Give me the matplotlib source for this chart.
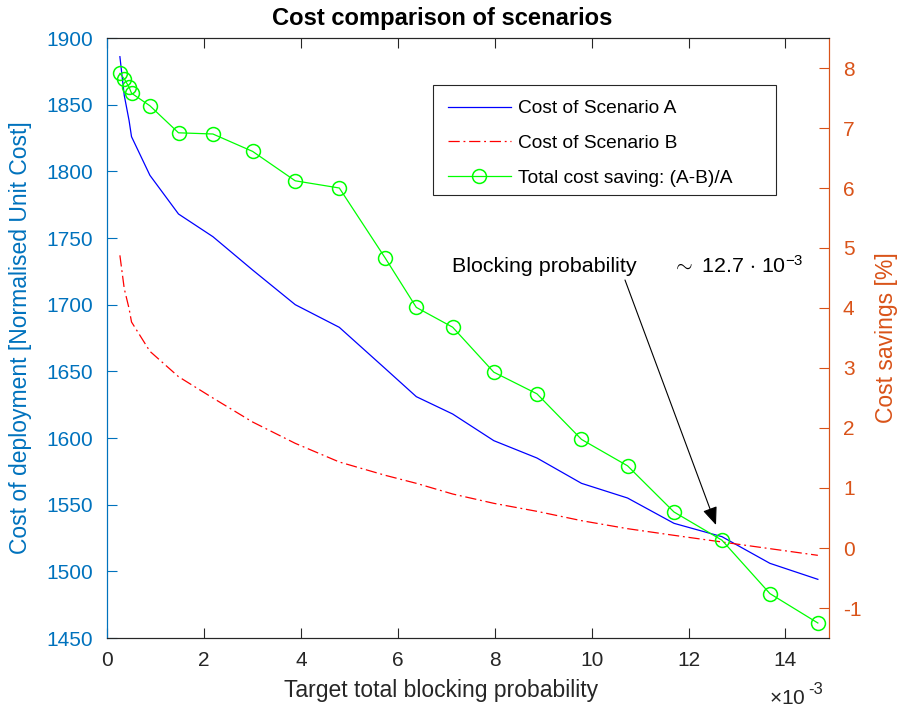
import matplotlib
matplotlib.use("Agg")
import matplotlib.pyplot as plt
from matplotlib.patches import Rectangle

plt.rcParams['font.family'] = ['Liberation Sans', 'DejaVu Sans']
plt.rcParams['mathtext.fontset'] = 'custom'
plt.rcParams['mathtext.rm'] = 'Liberation Sans'
plt.rcParams['mathtext.it'] = 'Liberation Sans:italic'
plt.rcParams['axes.unicode_minus'] = False

# target total blocking probability, in units of 1e-3
blocking = [0.26, 0.35, 0.45, 0.50, 0.88, 1.47, 2.18, 3.00, 3.88, 4.79, 5.74,
            6.38, 7.13, 7.98, 8.87, 9.79, 10.74, 11.70, 12.69, 13.68, 14.67]
cost_a = [1886, 1857, 1838, 1826, 1797, 1768, 1751, 1726, 1700, 1683, 1652,
          1631, 1618, 1598, 1585, 1566, 1555, 1536, 1526, 1506, 1494]
cost_b = [1737, 1712, 1697, 1687, 1665, 1646, 1630, 1612, 1596, 1582, 1572,
          1566, 1558, 1551, 1545, 1538, 1532, 1527, 1522, 1517, 1512]
saving = [7.91, 7.82, 7.68, 7.58, 7.37, 6.92, 6.90, 6.61, 6.12, 6.00, 4.83,
          4.01, 3.68, 2.93, 2.57, 1.81, 1.37, 0.60, 0.13, -0.76, -1.25]

x_ticks = [0, 2, 4, 6, 8, 10, 12, 14]
left_ticks = list(range(1450, 1901, 50))
right_ticks = list(range(-1, 9))

BLUE = (0, 0.447, 0.741)
ORANGE = (0.85, 0.325, 0.098)
DARK = (0.15, 0.15, 0.15)
W, H = 898, 711


def fp(x, y):
    # pixel position -> figure fraction
    return x / W, 1 - y / H


fig = plt.figure(figsize=(W / 100, H / 100), dpi=100)
ax = fig.add_axes([107.3 / W, 1 - 638 / H, 721.7 / W, 600 / H])
ax2 = ax.twinx()

la, = ax.plot(blocking, cost_a, color='blue', lw=0.9, label='Cost of Scenario A')
lb, = ax.plot(blocking, cost_b, color='red', lw=0.9, linestyle=(0, (9, 3, 1.5, 3)),
              label='Cost of Scenario B')
ls, = ax2.plot(blocking, saving, color=(0, 1, 0), lw=0.9, marker='o', markersize=10,
               markerfacecolor='none', markeredgewidth=1.1,
               label='Total cost saving: (A-B)/A')

ax.set_xlim(0, 14.9)
ax.set_ylim(1450, 1900)
ax2.set_ylim(-1.5, 8.5)
ax.set_xticks(x_ticks)
ax.set_yticks(left_ticks)
ax2.set_yticks(right_ticks)

ax.tick_params(axis='x', direction='in', length=7, width=0.8, colors=DARK,
               labelsize=15, pad=9, top=True)
ax.tick_params(axis='y', direction='in', length=7, width=0.8, colors=BLUE,
               labelsize=15, pad=10)
ax2.tick_params(axis='y', direction='in', length=7, width=0.8, colors=ORANGE,
                labelsize=15, pad=10)

for a in (ax, ax2):
    a.spines['top'].set_color(DARK)
    a.spines['bottom'].set_color(DARK)
    a.spines['left'].set_color(BLUE)
    a.spines['right'].set_color(ORANGE)
    for s in a.spines.values():
        s.set_linewidth(0.8)

ax.set_xlabel('Target total blocking probability', fontsize=16.5, color=DARK)
ax.xaxis.set_label_coords((441.5 - 107.3) / 721.7, (638 - 679) / 600)
ax.set_ylabel('Cost of deployment [Normalised Unit Cost]', fontsize=16.5, color=BLUE)
ax.yaxis.set_label_coords((32 - 107.3) / 721.7, 0.5)
ax2.set_ylabel('Cost savings [%]', fontsize=16.5, color=ORANGE)
ax2.yaxis.set_label_coords((875 - 107.3) / 721.7, 0.5)

fig.text(*fp(442.5, 18), 'Cost comparison of scenarios', fontsize=17.1,
         fontweight='bold', ha='center', va='center')
fig.text(*fp(769, 698), r'$\times$10', fontsize=15, color=DARK, ha='left', va='center')
fig.text(*fp(808, 689), '-3', fontsize=12, color=DARK, ha='left', va='center')

# legend box drawn separately (wider right margin, like the reference)
ax2.add_patch(Rectangle(fp(432.7, 195), (776 - 432.7) / W, 110 / H,
                        transform=fig.transFigure, facecolor='white',
                        edgecolor=DARK, linewidth=0.8, zorder=4, clip_on=False))
leg = ax2.legend(handles=[la, lb, ls], loc='upper left',
                 bbox_to_anchor=fp(432.7, 85), bbox_transform=fig.transFigure,
                 fontsize=13.8, frameon=False, handlelength=3.3,
                 handletextpad=0.35, labelspacing=0.9, borderpad=0.78,
                 borderaxespad=0)
leg.set_zorder(6)

fig.text(*fp(452, 266), 'Blocking probability', fontsize=15.4, ha='left', va='center')
fig.text(*fp(672, 266), r'$\sim$ 12.7 $\cdot$ 10$^{\mathrm{-3}}$', fontsize=15.4,
         ha='left', va='center')
ax.annotate('', xy=fp(716, 525), xytext=fp(625, 280),
            xycoords='figure fraction', textcoords='figure fraction',
            arrowprops=dict(arrowstyle='-|>,head_length=1.1,head_width=0.45',
                            color='black', lw=0.8, shrinkA=0, shrinkB=0))

fig.savefig('out.png', dpi=100)
